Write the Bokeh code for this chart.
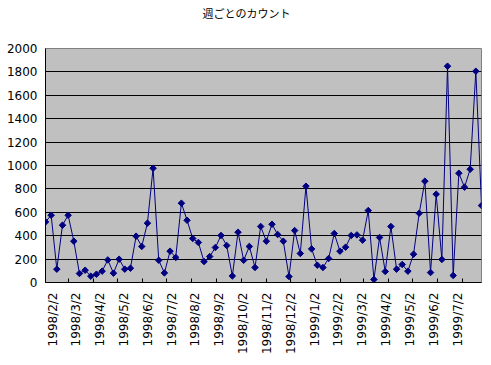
import pandas as pd
from math import pi
from bokeh.plotting import figure
from bokeh.models import FixedTicker, Range1d, Title
from bokeh.embed import file_html
from bokeh.resources import INLINE

title_text = "週ごとのカウント"
start_date = "1998-02-02"
counts = [518, 575, 114, 490, 575, 353, 77, 105, 54, 71,
          97, 193, 80, 199, 114, 122, 396, 308, 507, 977,
          190, 82, 268, 214, 678, 532, 376, 342, 179, 222,
          299, 402, 316, 56, 430, 190, 308, 128, 479, 353,
          498, 410, 353, 51, 444, 248, 823, 287, 148, 128,
          205, 419, 268, 302, 402, 407, 362, 615, 26, 385,
          94, 479, 114, 154, 97, 242, 592, 866, 85, 755,
          197, 1849, 60, 934, 815, 968, 1806, 658]
tick_labels = ["1998/2/2", "1998/3/2", "1998/4/2", "1998/5/2", "1998/6/2",
               "1998/7/2", "1998/8/2", "1998/9/2", "1998/10/2", "1998/11/2",
               "1998/12/2", "1999/1/2", "1999/2/2", "1999/3/2", "1999/4/2",
               "1999/5/2", "1999/6/2", "1999/7/2"]
y_ticks = [0, 200, 400, 600, 800, 1000, 1200, 1400, 1600, 1800, 2000]

dates = pd.date_range(start_date, periods=len(counts), freq="7D")
tick_dates = pd.to_datetime(tick_labels, format="%Y/%m/%d")
tick_ms = [int(d.value // 10**6) for d in tick_dates]

W, H = 483, 357
ML, MR, MT, MB = 45, 2, 48, 75
frame_w = W - ML - MR
start_ms = dates[0].value / 1e6
span_ms = (dates[-1] - dates[0]).total_seconds() * 1000.0

# Excel spreads the month labels evenly across the axis (pixel offsets in frame)
lab_first_px, lab_last_px = 7.0, 412.0
n_lab = len(tick_labels)
label_pos = [start_ms + (lab_first_px + i * (lab_last_px - lab_first_px) / (n_lab - 1))
             / frame_w * span_ms for i in range(n_lab)]

p = figure(width=W, height=H, x_axis_type="datetime",
           x_range=Range1d(dates[0], dates[-1]),
           y_range=Range1d(y_ticks[0], y_ticks[-1]),
           output_backend="svg", toolbar_location=None,
           min_border_left=ML, min_border_right=MR,
           min_border_top=MT, min_border_bottom=MB)

p.background_fill_color = "#C0C0C0"
p.border_fill_color = "white"
p.outline_line_color = "#808080"
p.outline_line_width = 1

p.title.text = title_text
p.title.text_font = "Noto Sans CJK JP"
p.title.text_font_size = "11px"
p.title.text_font_style = "normal"
p.title.text_color = "black"
p.title.align = "left"
p.title.offset = 157
p.title.standoff = 4

# blank (white-on-white) spacer between the title and the plot area
p.add_layout(Title(text="\u3000", text_font="Noto Sans CJK JP", text_font_size="11px",
                   text_color="white", standoff=8), "above")

p.line(dates, counts, line_color="#000080", line_width=1)
p.scatter(dates, counts, marker="square", size=4.6, angle=pi / 4,
          fill_color="#000080", line_color="#000080")

p.xgrid.grid_line_color = None
p.ygrid.grid_line_color = "black"
p.ygrid.grid_line_width = 1

xa = p.xaxis[0]
xa.ticker = FixedTicker(ticks=label_pos, minor_ticks=tick_ms)
xa.major_label_overrides = {t: lab for t, lab in zip(label_pos, tick_labels)}
xa.major_label_orientation = pi / 2
xa.major_tick_line_color = None
xa.major_tick_in = 0
xa.major_tick_out = 0
xa.minor_tick_line_color = "black"
xa.minor_tick_in = 4
xa.minor_tick_out = 0
xa.major_label_standoff = 10
xa.axis_line_color = "black"
xa.major_label_text_font = "DejaVu Sans"
xa.major_label_text_font_size = "12px"
xa.major_label_text_color = "black"

ya = p.yaxis[0]
ya.ticker = FixedTicker(ticks=y_ticks)
ya.minor_tick_line_color = None
ya.major_tick_in = 0
ya.major_tick_out = 0
ya.major_label_standoff = 8
ya.axis_line_color = "black"
ya.major_label_text_font = "DejaVu Sans"
ya.major_label_text_font_size = "12px"
ya.major_label_text_color = "black"

with open("out.html", "w", encoding="utf-8") as f:
    f.write(file_html(p, INLINE))
